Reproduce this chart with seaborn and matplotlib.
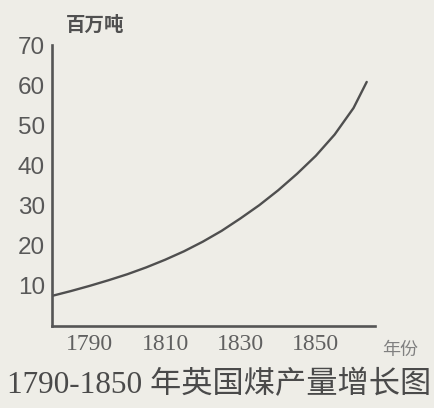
import numpy as np
import pandas as pd
import matplotlib
matplotlib.use("Agg")
import matplotlib.pyplot as plt
import seaborn as sns

# values (million tonnes)
years = [1780, 1785, 1790, 1795, 1800, 1805, 1810, 1815, 1820, 1825,
         1830, 1835, 1840, 1845, 1850, 1855, 1860, 1863.5]
coal = [7.5, 8.7, 10.0, 11.4, 12.9, 14.6, 16.5, 18.6, 21.0, 23.7,
        26.8, 30.1, 33.8, 37.9, 42.4, 47.7, 54.3, 60.8]

y_ticks = [10, 20, 30, 40, 50, 60, 70]
x_ticks = [1790, 1800, 1810, 1820, 1830, 1840, 1850, 1860]
x_labels = ["1790", "", "1810", "", "1830", "", "1850", ""]

bg = "#eeede7"
ink = "#555555"

sns.set_theme(style="white")
plt.rcParams['font.family'] = ['Liberation Sans', 'Noto Sans CJK SC']

df = pd.DataFrame({"year": years, "coal": coal})

fig = plt.figure(figsize=(4.35, 4.08), dpi=100, facecolor=bg)
ax = fig.add_axes([52 / 435, 1 - 326 / 408, (375 - 52) / 435, (326 - 45) / 408])
ax.set_facecolor(bg)

sns.lineplot(data=df, x="year", y="coal", ax=ax, color="#4f4f4f", linewidth=1.7)

ax.set_xlim(1780, 1865.7)
ax.set_ylim(0, 70)
sns.despine(ax=ax)
for s in ["left", "bottom"]:
    ax.spines[s].set_color(ink)
    ax.spines[s].set_linewidth(1.9)

ax.set_yticks(y_ticks)
ax.set_yticklabels([str(v) for v in y_ticks], fontsize=17.5, color="#585858")
ax.set_xticks(x_ticks)
ax.set_xticklabels(x_labels, fontsize=17, color="#606060", family="Liberation Serif")
ax.tick_params(axis="both", direction="in", length=7, width=1.8, color=ink)
ax.tick_params(axis="y", pad=5)
ax.tick_params(axis="x", pad=6)
ax.set_xlabel("")
ax.set_ylabel("")

fig.text(95 / 435, 1 - 25 / 408, "百万吨", ha="center", va="center",
         fontsize=14, color="#505050", fontweight="bold")
fig.text(400 / 435, 1 - 350 / 408, "年份", ha="center", va="center",
         fontsize=13, color="#808080")
fig.text(219 / 435, 1 - 385 / 408, "1790-1850 年英国煤产量增长图", ha="center", va="center",
         fontsize=22.5, color="#4a4a4a", family=["Liberation Serif", "Noto Sans CJK SC"])

fig.savefig("out.png", dpi=100, facecolor=bg)
